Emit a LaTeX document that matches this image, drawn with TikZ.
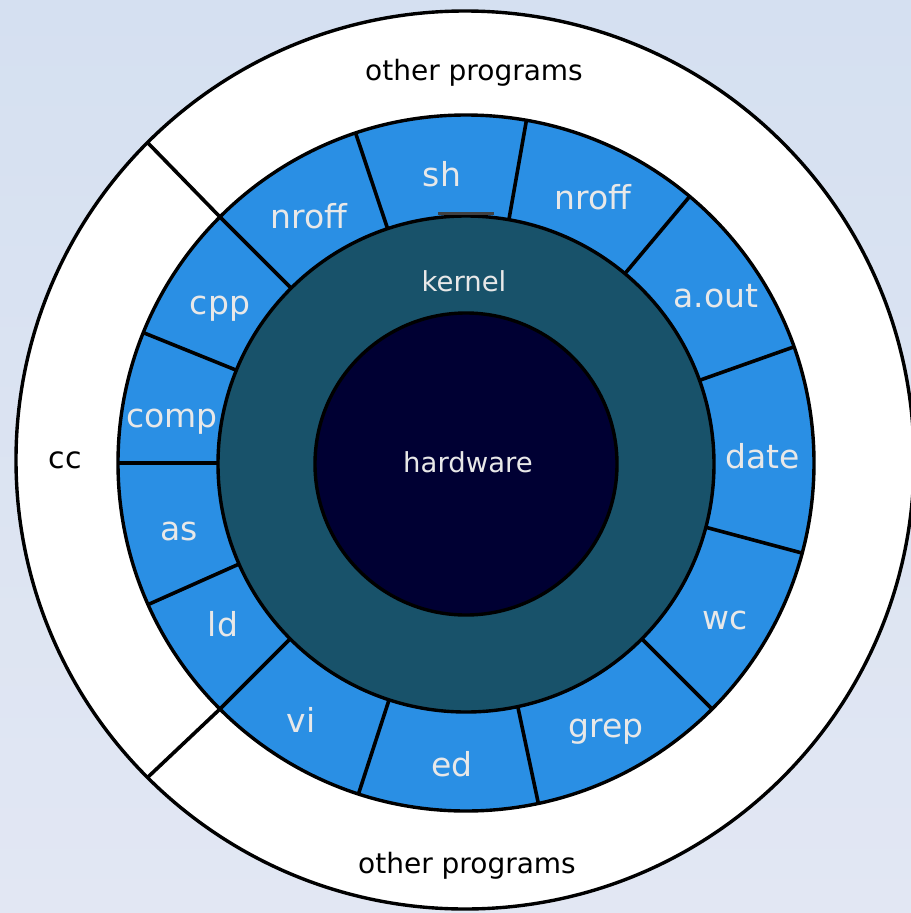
\documentclass[tikz,border=0pt]{standalone}
\usepackage{fontspec}
\setmainfont{DejaVu Sans}
\definecolor{bgtop}{RGB}{213,224,241}
\definecolor{bgbot}{RGB}{226,231,243}
\definecolor{progblue}{RGB}{42,143,228}
\definecolor{kernelc}{RGB}{24,82,106}
\definecolor{hwc}{RGB}{0,0,51}
\definecolor{labelc}{RGB}{232,232,232}
\tikzset{
  ring/.style={draw=black, line width=3.4bp},
  divider/.style={draw=black, line width=3.6bp},
  biglabel/.style={anchor=base, inner sep=0pt, text=labelc, font=\fontsize{33bp}{36bp}\selectfont},
  corelabel/.style={anchor=base, inner sep=0pt, text=labelc, font=\fontsize{27.5bp}{30bp}\selectfont},
  outerlabel/.style={anchor=base, inner sep=0pt, text=black, font=\fontsize{28bp}{32bp}\selectfont},
}
\begin{document}
\begin{tikzpicture}[x=1bp,y=-1bp]
\useasboundingbox (0,0) rectangle (911,913);
\fill[top color=bgtop, bottom color=bgbot] (0,0) rectangle (911,913);
% outer white ring
\fill[white, ring] (465,460) circle[radius=449];
% blue ring
\fill[progblue, ring] (466,463) circle[radius=348];
% dividers of blue ring (screen angles, y down)
\foreach \a in {-135,-108.5,-80,-50,-19.5,15,45,78,108,135,156,180,202}
  \draw[divider] ([shift={(\a:246)}]466,463) -- ([shift={(\a:348)}]466,463);
% cc dividers
\foreach \a in {-135,135}
  \draw[divider] ([shift={(\a:347)}]466,463) -- ([shift={(\a:449)}]465,460);
% kernel
\fill[kernelc, ring] (466,464) circle[radius=248];
% small mark under sh
\draw[line width=3bp, black!75] (438,213) -- (494,213);
% hardware
\fill[hwc, ring] (466,464) circle[radius=151];
% labels
\node[outerlabel] (optop) at (474,80) {other programs};
\node[outerlabel] (opbot) at (467,873) {other programs};
\node[outerlabel, font=\fontsize{30bp}{32bp}\selectfont] (cc) at (65,468) {cc};
\node[biglabel] (sh) at (442,186) {sh};
\node[biglabel] (nroffl) at (309,228) {nroff};
\node[biglabel] (nroffr) at (593,209) {nroff};
\node[biglabel] (aout) at (716,307) {a.out};
\node[biglabel] (date) at (763,468) {date};
\node[biglabel] (wc) at (725,629) {wc};
\node[biglabel] (grep) at (606,737) {grep};
\node[biglabel] (ed) at (452,776) {ed};
\node[biglabel] (vi) at (301,732) {vi};
\node[biglabel] (ld) at (223,636) {ld};
\node[biglabel] (as) at (179,540) {as};
\node[biglabel] (comp) at (172,427) {comp};
\node[biglabel] (cpp) at (220,314) {cpp};
\node[corelabel] (kernel) at (464,291) {kernel};
\node[corelabel] (hardware) at (468,472) {hardware};
\end{tikzpicture}
\end{document}
